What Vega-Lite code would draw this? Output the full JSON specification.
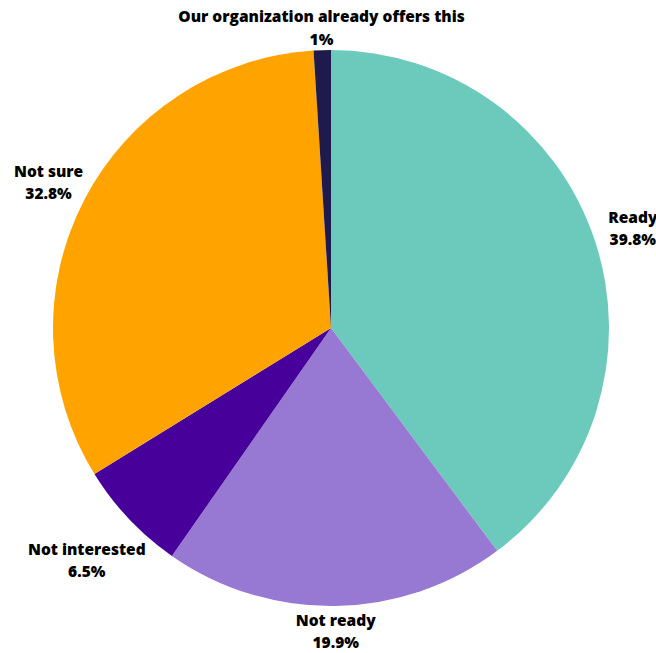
{
  "$schema": "https://vega.github.io/schema/vega-lite/v6.json",
  "width": 650,
  "height": 650,
  "autosize": {"type": "none"},
  "padding": {"left": 6, "top": 3, "right": 0, "bottom": 0},
  "background": "white",
  "view": {"stroke": null},
  "data": {
    "values": [
      {"rank": 1, "category": "Ready", "value": 39.8, "label": "Ready\n39.8%"},
      {"rank": 2, "category": "Not ready", "value": 19.9, "label": "Not ready\n19.9%"},
      {"rank": 3, "category": "Not interested", "value": 6.5, "label": "Not interested\n6.5%"},
      {"rank": 4, "category": "Not sure", "value": 32.8, "label": "Not sure\n32.8%"},
      {"rank": 5, "category": "Our organization already offers this", "value": 1, "label": "Our organization already offers this\n1%"}
    ]
  },
  "transform": [
    {"stack": "value", "groupby": [], "sort": [{"field": "rank", "order": "ascending"}], "as": ["v0", "v1"]},
    {"calculate": "(datum.v0 + datum.v1) / 2", "as": "mid"}
  ],
  "layer": [
    {
      "mark": {"type": "arc", "outerRadius": 278, "stroke": null},
      "encoding": {
        "theta": {"field": "v0", "type": "quantitative", "scale": {"domain": [0, 100]}},
        "theta2": {"field": "v1"},
        "color": {
          "field": "category",
          "type": "nominal",
          "legend": null,
          "scale": {
            "domain": ["Ready", "Not ready", "Not interested", "Not sure", "Our organization already offers this"],
            "range": ["#6CCABC", "#9778D3", "#47009A", "#FFA300", "#1E1A4B"]
          }
        }
      }
    },
    {
      "transform": [{"filter": {"field": "category", "oneOf": ["Ready", "Not sure"]}}],
      "mark": {"type": "text", "radius": 318, "dy": -10, "font": "Open Sans", "fontWeight": 800, "fontSize": 15.5, "lineBreak": "\n", "lineHeight": 22.5, "align": "center", "baseline": "middle", "color": "#000000"},
      "encoding": {
        "theta": {"field": "mid", "type": "quantitative", "scale": {"domain": [0, 100]}},
        "text": {"field": "label", "type": "nominal"}
      }
    },
    {
      "transform": [{"filter": {"field": "category", "oneOf": ["Not interested"]}}],
      "mark": {"type": "text", "radius": 336, "dy": -9, "font": "Open Sans", "fontWeight": 800, "fontSize": 15.5, "lineBreak": "\n", "lineHeight": 22.5, "align": "center", "baseline": "middle", "color": "#000000"},
      "encoding": {
        "theta": {"field": "mid", "type": "quantitative", "scale": {"domain": [0, 100]}},
        "text": {"field": "label", "type": "nominal"}
      }
    },
    {
      "transform": [{"filter": {"field": "category", "oneOf": ["Not ready", "Our organization already offers this"]}}],
      "mark": {"type": "text", "radius": 302, "dy": -9, "font": "Open Sans", "fontWeight": 800, "fontSize": 15.5, "lineBreak": "\n", "lineHeight": 22.5, "align": "center", "baseline": "middle", "color": "#000000"},
      "encoding": {
        "theta": {"field": "mid", "type": "quantitative", "scale": {"domain": [0, 100]}},
        "text": {"field": "label", "type": "nominal"}
      }
    }
  ]
}
